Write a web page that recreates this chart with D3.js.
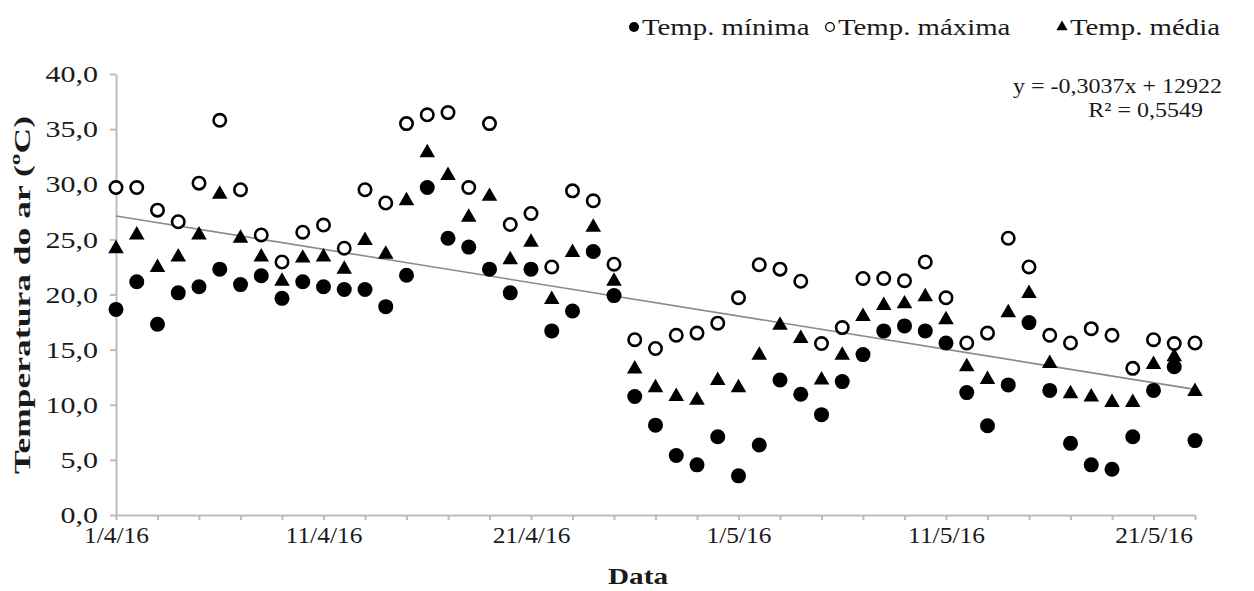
<!DOCTYPE html>
<html>
<head>
<meta charset="utf-8">
<script src="https://cdn.jsdelivr.net/npm/d3@7"></script>
<style>
  body { margin: 0; background: #fff; }
  svg text { font-family: "Liberation Serif", "Times New Roman", serif; fill: #1a1a1a; }
  .axis path, .axis line { stroke: #bdbdbd; stroke-width: 2; }
  .axis text { font-size: 24px; }
</style>
</head>
<body>
<div id="chart"></div>
<script>
// daily readings, 1/4/2016 .. 23/5/2016
var startDate = new Date(2016, 3, 1);
var nDays = 53;

var tempMin = [18.65, 21.15, 17.3, 20.15, 20.7, 22.3, 20.9, 21.7, 19.65, 21.15,
  20.7, 20.45, 20.45, 18.9, 21.75, 29.7, 25.1, 24.3, 22.3, 20.15,
  22.3, 16.7, 18.5, 23.9, 19.9, 10.75, 8.15, 5.4, 4.55, 7.1,
  3.55, 6.35, 12.25, 10.95, 9.1, 12.1, 14.55, 16.7, 17.15, 16.7,
  15.6, 11.1, 8.1, 11.8, 17.45, 11.3, 6.5, 4.55, 4.15, 7.1,
  11.3, 13.45, 6.75];

var tempMax = [29.7, 29.7, 27.65, 26.6, 30.1, 35.8, 29.5, 25.4, 22.95, 25.65,
  26.3, 24.2, 29.5, 28.3, 35.5, 36.3, 36.5, 29.7, 35.5, 26.35,
  27.35, 22.5, 29.4, 28.5, 22.75, 15.9, 15.1, 16.3, 16.5, 17.4,
  19.7, 22.7, 22.3, 21.2, 15.55, 17.0, 21.45, 21.45, 21.25, 22.95,
  19.7, 15.6, 16.5, 25.1, 22.5, 16.3, 15.6, 16.9, 16.3, 13.3,
  15.9, 15.55, 15.6];

var tempMed = [24.15, 25.4, 22.45, 23.4, 25.4, 29.1, 25.1, 23.4, 21.2, 23.3,
  23.4, 22.3, 24.9, 23.65, 28.5, 32.85, 30.8, 27.0, 28.9, 23.15,
  24.75, 19.55, 23.8, 26.1, 21.2, 13.25, 11.55, 10.75, 10.4, 12.2,
  11.55, 14.5, 17.2, 16.0, 12.25, 14.5, 18.0, 19.0, 19.15, 19.8,
  17.7, 13.45, 12.3, 18.35, 20.1, 13.75, 11.0, 10.7, 10.2, 10.2,
  13.65, 14.35, 11.2];

var yTicks = [0, 5, 10, 15, 20, 25, 30, 35, 40];
var seriesNames = ["Temp. mínima", "Temp. máxima", "Temp. média"];
var equationText = "y = -0,3037x + 12922";
var r2Text = "R² = 0,5549";

var width = 1254, height = 591;
var margin = {top: 74, right: 59, bottom: 76, left: 116};

var svg = d3.select("#chart").append("svg")
  .attr("width", width)
  .attr("height", height);

var dates = d3.range(nDays).map(function (i) { return d3.timeDay.offset(startDate, i); });

var x = d3.scaleTime()
  .domain([dates[0], dates[nDays - 1]])
  .range([margin.left, width - margin.right]);

var y = d3.scaleLinear()
  .domain([0, 40])
  .range([height - margin.bottom, margin.top]);

var fmtComma = function (d) { return d3.format(".1f")(d).replace(".", ","); };
var fmtDate = function (d) { return d.getDate() + "/" + (d.getMonth() + 1) + "/" + String(d.getFullYear()).slice(2); };

// stretch a text sideways, the reference glyphs are wider than Times
function widen(sel, k) {
  sel.each(function () {
    var w = this.getComputedTextLength();
    if (w > 0) d3.select(this).attr("textLength", w * k).attr("lengthAdjust", "spacingAndGlyphs");
  });
}

// y axis
var yAxisG = svg.append("g")
  .attr("class", "axis")
  .attr("transform", "translate(" + margin.left + ",0)")
  .call(d3.axisLeft(y).tickValues(yTicks).tickFormat(fmtComma).tickSize(6).tickPadding(12).tickSizeOuter(0));
widen(yAxisG.selectAll("text"), 1.25);

// x axis: minor ticks every 2 days, labels every 10
var tickDates = dates.filter(function (d, i) { return i % 2 === 0; });
var xAxisG = svg.append("g")
  .attr("class", "axis")
  .attr("transform", "translate(0," + (height - margin.bottom) + ")")
  .call(d3.axisBottom(x).tickValues(tickDates).tickSize(5).tickPadding(6).tickSizeOuter(0)
    .tickFormat(function (d) {
      var i = d3.timeDay.count(startDate, d);
      return i % 10 === 0 ? fmtDate(d) : "";
    }));
widen(xAxisG.selectAll("text"), 1.06);

// trend line (least squares on the mean temperature)
var idx = d3.range(nDays);
var mx = d3.mean(idx), my = d3.mean(tempMed);
var slope = d3.sum(idx, function (i) { return (i - mx) * (tempMed[i] - my); }) /
  d3.sum(idx, function (i) { return (i - mx) * (i - mx); });
var icpt = my - slope * mx;

svg.append("line")
  .attr("x1", x(dates[0])).attr("y1", y(icpt))
  .attr("x2", x(dates[nDays - 1])).attr("y2", y(icpt + slope * (nDays - 1)))
  .attr("stroke", "#8a8a8a")
  .attr("stroke-width", 1.6);

// series
svg.append("g").selectAll("circle")
  .data(tempMin)
  .enter().append("circle")
  .attr("cx", function (d, i) { return x(dates[i]); })
  .attr("cy", function (d) { return y(d); })
  .attr("r", 7.5)
  .attr("fill", "#000");

svg.append("g").selectAll("circle")
  .data(tempMax)
  .enter().append("circle")
  .attr("cx", function (d, i) { return x(dates[i]); })
  .attr("cy", function (d) { return y(d); })
  .attr("r", 6.2)
  .attr("fill", "#fff")
  .attr("stroke", "#000")
  .attr("stroke-width", 2.6);

var tri = d3.symbol().type(d3.symbolTriangle).size(105);
svg.append("g").selectAll("path")
  .data(tempMed)
  .enter().append("path")
  .attr("d", tri)
  .attr("transform", function (d, i) { return "translate(" + x(dates[i]) + "," + y(d) + ")"; })
  .attr("fill", "#000");

// legend
var legendX = [634, 830, 1062];
var legend = svg.append("g").selectAll("g")
  .data(seriesNames)
  .enter().append("g")
  .attr("transform", function (d, i) { return "translate(" + legendX[i] + ",27)"; });

legend.each(function (d, i) {
  var g = d3.select(this);
  if (i === 0) g.append("circle").attr("r", 5).attr("fill", "#000");
  if (i === 1) g.append("circle").attr("r", 4.3).attr("fill", "#fff").attr("stroke", "#000").attr("stroke-width", 1.3);
  if (i === 2) g.append("path").attr("d", d3.symbol().type(d3.symbolTriangle).size(55)).attr("fill", "#000");
  g.append("text").attr("x", 8).attr("y", 8).style("font-size", "24px").text(d);
});
widen(legend.selectAll("text"), 1.2);

// equation
var eq = svg.append("text")
  .attr("x", 1222).attr("y", 93)
  .attr("text-anchor", "end")
  .style("font-size", "22px")
  .text(equationText);
var r2 = svg.append("text")
  .attr("x", 1203).attr("y", 117)
  .attr("text-anchor", "end")
  .style("font-size", "22px")
  .text(r2Text);
widen(eq, 1.09);
widen(r2, 1.09);

// axis titles
svg.append("text")
  .attr("transform", "translate(30,295) rotate(-90)")
  .attr("text-anchor", "middle")
  .attr("textLength", 358)
  .attr("lengthAdjust", "spacingAndGlyphs")
  .style("font-size", "24px")
  .style("font-weight", "bold")
  .text("Temperatura do ar (ºC)");

svg.append("text")
  .attr("x", 638).attr("y", 584)
  .attr("text-anchor", "middle")
  .attr("textLength", 60)
  .attr("lengthAdjust", "spacingAndGlyphs")
  .style("font-size", "24px")
  .style("font-weight", "bold")
  .text("Data");
</script>
</body>
</html>
